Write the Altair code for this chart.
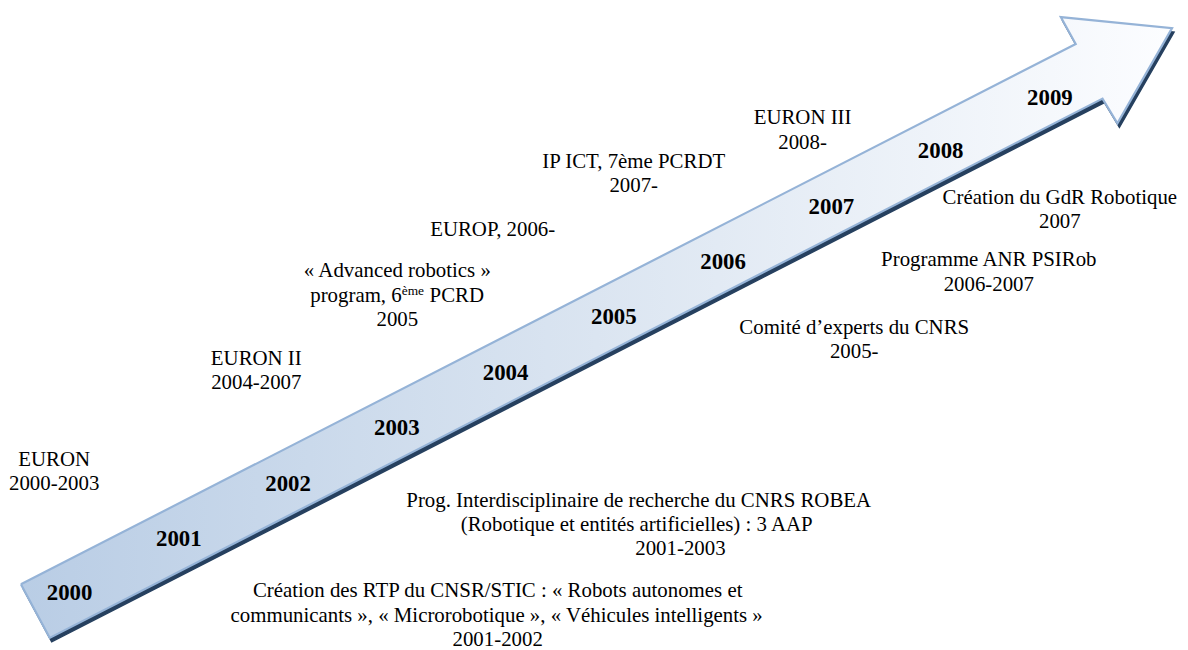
import altair as alt
import pandas as pd

# ---- arrow outline (page pixel space) ----
arrow_x = [21, 1083, 1068, 1180, 1125, 1110, 50, 21]
arrow_y = [586, 42, 15, 26, 122, 97, 640, 586]
shadow_offset = (2, 4)

# ---- year labels on the arrow ----
year_labels = ["2000", "2001", "2002", "2003", "2004", "2005", "2006", "2007", "2008", "2009"]
year_x = [70, 180, 290, 399.5, 509, 618, 728, 837, 947, 1057]
year_y = [602, 547, 492, 436, 380, 324, 269, 213, 157, 103]

# ---- annotation lines (text, centre x, baseline y) ----
note_text = [
    "EURON", "2000-2003",
    "EURON II", "2004-2007",
    "« Advanced robotics »", "2005",
    "EUROP, 2006-",
    "IP ICT, 7ème PCRDT", "2007-",
    "EURON III", "2008-",
    "Création du GdR Robotique", "2007",
    "Programme ANR PSIRob", "2006-2007",
    "Comité d’experts du CNRS", "2005-",
    "Prog. Interdisciplinaire de recherche du CNRS ROBEA",
    "(Robotique et entités artificielles) : 3 AAP", "2001-2003",
    "Création des RTP du CNSR/STIC : « Robots autonomes et",
    "communicants », « Microrobotique », « Véhicules intelligents »", "2001-2002",
]
note_x = [
    54.5, 54.5,
    258, 258,
    400, 400,
    496,
    638, 638,
    808, 808,
    1067, 1067,
    995.5, 995.5,
    860, 860,
    643, 641, 685,
    501, 500, 501,
]
note_y = [
    467, 491.5,
    365, 389,
    277, 326,
    235,
    167, 191.5,
    123, 147.5,
    203, 227.5,
    266, 290.5,
    334, 358.5,
    508, 532.5, 557,
    599, 623.5, 648,
]

# line with a superscript: "program, 6" + "ème" + "PCRD"
sup_left_text, sup_left_x, sup_y = "program, 6", 404.4, 302
sup_text, sup_x, sup_raise = "ème", 404.4, 7
sup_right_text, sup_right_x = "PCRD", 432.5

FONT = ("Tinos, 'Nimbus Roman', 'Nimbus Roman No9 L', 'TeX Gyre Termes', FreeSerif, "
        "'Noto Serif', 'DejaVu Serif Condensed', 'Liberation Serif', 'DejaVu Serif'")

# ---- data frames ----
arrow_df = pd.DataFrame({"x": arrow_x, "y": arrow_y, "i": list(range(len(arrow_x)))})
shadow_df = pd.DataFrame({
    "x": [v + shadow_offset[0] for v in arrow_x],
    "y": [v + shadow_offset[1] for v in arrow_y],
    "i": list(range(len(arrow_x))),
})
years_df = pd.DataFrame({"x": year_x, "y": year_y, "t": year_labels})
notes_df = pd.DataFrame({"x": note_x, "y": note_y, "t": note_text})
supL_df = pd.DataFrame({"x": [sup_left_x], "y": [sup_y], "t": [sup_left_text]})
supM_df = pd.DataFrame({"x": [sup_x], "y": [sup_y - sup_raise], "t": [sup_text]})
supR_df = pd.DataFrame({"x": [sup_right_x], "y": [sup_y], "t": [sup_right_text]})

xs = alt.X("x:Q", scale=alt.Scale(domain=[8, 1188], nice=False, zero=False), axis=None)
ys = alt.Y("y:Q", scale=alt.Scale(domain=[8, 650], nice=False, zero=False, reverse=True), axis=None)

gradient = alt.Gradient(
    gradient="linear",
    stops=[
        alt.GradientStop(color="#b9cde5", offset=0),
        alt.GradientStop(color="#dbe5f1", offset=0.5),
        alt.GradientStop(color="#fcfdff", offset=1),
    ],
    x1=0, x2=1, y1=0.5, y2=0.5,
)

shadow = alt.Chart(shadow_df).mark_line(
    fill="#26405f", stroke="#26405f", strokeWidth=1.5
).encode(x=xs, y=ys, order=alt.Order("i:Q"))

arrow = alt.Chart(arrow_df).mark_line(
    fill=gradient, stroke="#95b3d7", strokeWidth=2.2, strokeJoin="miter"
).encode(x=xs, y=ys, order=alt.Order("i:Q"))

years = alt.Chart(years_df).mark_text(
    font=FONT, fontSize=23, fontWeight="bold", align="center",
    baseline="alphabetic", color="black"
).encode(x=xs, y=ys, text="t:N")

notes = alt.Chart(notes_df).mark_text(
    font=FONT, fontSize=21, align="center", baseline="alphabetic", color="black"
).encode(x=xs, y=ys, text="t:N")

supL = alt.Chart(supL_df).mark_text(
    font=FONT, fontSize=21, align="right", baseline="alphabetic", color="black"
).encode(x=xs, y=ys, text="t:N")
supM = alt.Chart(supM_df).mark_text(
    font=FONT, fontSize=13.5, align="left", baseline="alphabetic", color="black"
).encode(x=xs, y=ys, text="t:N")
supR = alt.Chart(supR_df).mark_text(
    font=FONT, fontSize=21, align="left", baseline="alphabetic", color="black"
).encode(x=xs, y=ys, text="t:N")

chart = alt.layer(shadow, arrow, years, notes, supL, supM, supR).properties(
    width=1180, height=642,
    autosize=alt.AutoSizeParams(type="none"),
    padding=0,
    background="white",
).configure_view(strokeWidth=0)

chart.save("out.html", embed_options={"renderer": "svg", "actions": False})
